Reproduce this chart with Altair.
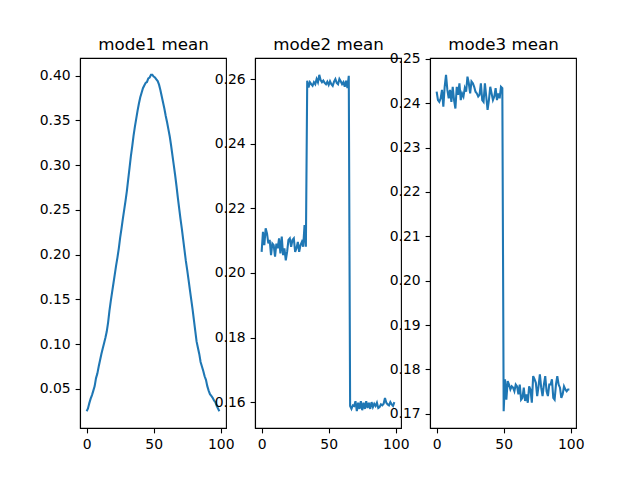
import altair as alt
import pandas as pd

steps = list(range(100))

mode1_mean = [
    0.025, 0.028, 0.034, 0.039, 0.043, 0.048, 0.053, 0.062, 0.067, 0.075,
    0.082, 0.089, 0.095, 0.101, 0.107, 0.114, 0.124, 0.137, 0.148, 0.158,
    0.168, 0.178, 0.188, 0.197, 0.207, 0.219, 0.229, 0.240, 0.250, 0.260,
    0.271, 0.284, 0.297, 0.310, 0.321, 0.333, 0.343, 0.352, 0.361, 0.369,
    0.376, 0.381, 0.386, 0.389, 0.392, 0.393, 0.397, 0.398, 0.401, 0.401,
    0.399, 0.398, 0.396, 0.394, 0.390, 0.384, 0.377, 0.370, 0.363, 0.355,
    0.348, 0.340, 0.332, 0.322, 0.311, 0.300, 0.289, 0.277, 0.264, 0.252,
    0.240, 0.229, 0.217, 0.205, 0.193, 0.183, 0.172, 0.161, 0.150, 0.139,
    0.127, 0.115, 0.103, 0.096, 0.089, 0.080, 0.075, 0.070, 0.064, 0.060,
    0.053, 0.048, 0.044, 0.042, 0.040, 0.037, 0.035, 0.031, 0.028, 0.025,
]

mode2_mean = [
    0.2065, 0.2127, 0.2086, 0.2138, 0.2122, 0.2091, 0.2102, 0.2055, 0.2091, 0.2086,
    0.2050, 0.2091, 0.2076, 0.2107, 0.2060, 0.2112, 0.2055, 0.2076, 0.2039, 0.2065,
    0.2102, 0.2107, 0.2081, 0.2102, 0.2107, 0.2065, 0.2076, 0.2096, 0.2065, 0.2086,
    0.2096, 0.2081, 0.2148, 0.2081, 0.2595, 0.2574, 0.2590, 0.2584, 0.2579, 0.2590,
    0.2584, 0.2600, 0.2590, 0.2613, 0.2597, 0.2590, 0.2595, 0.2588, 0.2584, 0.2592,
    0.2582, 0.2593, 0.2584, 0.2579, 0.2592, 0.2600, 0.2588, 0.2584, 0.2600, 0.2593,
    0.2584, 0.2590, 0.2576, 0.2595, 0.2572, 0.2610, 0.1588, 0.1579, 0.1590, 0.1588,
    0.1603, 0.1572, 0.1598, 0.1579, 0.1603, 0.1575, 0.1598, 0.1579, 0.1603, 0.1582,
    0.1598, 0.1579, 0.1600, 0.1585, 0.1595, 0.1588, 0.1598, 0.1582, 0.1585, 0.1593,
    0.1590, 0.1595, 0.1613, 0.1598, 0.1593, 0.1590, 0.1600, 0.1593, 0.1588, 0.1600,
]

mode3_mean = [
    0.2426, 0.2407, 0.2403, 0.2411, 0.2430, 0.2392, 0.2437, 0.2464, 0.2430, 0.2411,
    0.2430, 0.2403, 0.2437, 0.2407, 0.2388, 0.2437, 0.2419, 0.2445, 0.2407, 0.2422,
    0.2415, 0.2434, 0.2426, 0.2460, 0.2445, 0.2422, 0.2449, 0.2445, 0.2437, 0.2426,
    0.2422, 0.2415, 0.2419, 0.2445, 0.2407, 0.2403, 0.2445, 0.2415, 0.2385, 0.2407,
    0.2437, 0.2422, 0.2407, 0.2415, 0.2434, 0.2407, 0.2422, 0.2411, 0.2437, 0.2434,
    0.1706, 0.1778, 0.1732, 0.1774, 0.1766, 0.1755, 0.1762, 0.1759, 0.1751, 0.1766,
    0.1762, 0.1744, 0.1766, 0.1732, 0.1736, 0.1759, 0.1729, 0.1744, 0.1725, 0.1762,
    0.1755, 0.1725, 0.1785, 0.1778, 0.1770, 0.1740, 0.1762, 0.1789, 0.1759, 0.1740,
    0.1766, 0.1785, 0.1751, 0.1740, 0.1766, 0.1766, 0.1778, 0.1736, 0.1732, 0.1766,
    0.1785, 0.1766, 0.1759, 0.1736, 0.1744, 0.1762, 0.1755, 0.1751, 0.1755, 0.1755,
]

titles = ["mode1 mean", "mode2 mean", "mode3 mean"]
x_ticks = [0, 50, 100]
y_ticks = [
    [0.05, 0.10, 0.15, 0.20, 0.25, 0.30, 0.35, 0.40],
    [0.16, 0.18, 0.20, 0.22, 0.24, 0.26],
    [0.17, 0.18, 0.19, 0.20, 0.21, 0.22, 0.23, 0.24, 0.25],
]

FONT = "DejaVu Sans"


def panel(vals, title, ticks):
    df = pd.DataFrame({"step": steps, "value": vals})
    lo, hi = min(vals), max(vals)
    m = (hi - lo) * 0.05
    xlo, xhi = min(steps), max(steps)
    xm = (xhi - xlo) * 0.05
    xscale = alt.Scale(domain=[xlo - xm, xhi + xm], nice=False, zero=False)
    yenc = alt.Y(
        "value:Q",
        scale=alt.Scale(domain=[lo - m, hi + m], nice=False, zero=False),
        axis=alt.Axis(values=ticks, format=".2f", title=None),
    )
    base = alt.Chart(df)
    line = base.mark_line(color="#1f77b4", strokeWidth=2.08).encode(
        x=alt.X("step:Q", scale=xscale, axis=alt.Axis(values=x_ticks, format="d", title=None)),
        y=yenc,
    )
    # invisible layer that only carries a top axis whose title is the panel title
    top = base.mark_line(opacity=0).encode(
        x=alt.X(
            "step:Q",
            scale=xscale,
            axis=alt.Axis(
                orient="top",
                title=title,
                labels=False,
                ticks=False,
                domain=False,
                titleFont=FONT,
                titleFontSize=16.7,
                titleFontWeight="normal",
                titleColor="black",
                titlePadding=9,
                titleBaseline="alphabetic",
            ),
        ),
        y=yenc,
    )
    return (
        alt.layer(line, top)
        .resolve_axis(x="independent")
        .properties(width=146, height=370)
    )


charts = [
    panel(mode1_mean, titles[0], y_ticks[0]),
    panel(mode2_mean, titles[1], y_ticks[1]),
    panel(mode3_mean, titles[2], y_ticks[2]),
]

chart = (
    alt.hconcat(*charts, spacing=29, bounds="flush")
    .properties(padding={"left": 30, "top": 27, "right": 5, "bottom": 5}, background="white")
    .configure_view(stroke="black", strokeWidth=1.1)
    .configure_axis(
        grid=False,
        domainColor="black",
        domainWidth=1.1,
        tickColor="black",
        tickWidth=1.1,
        tickSize=4.9,
        labelPadding=4.9,
        labelColor="black",
        labelFont=FONT,
        labelFontSize=13.9,
        labelFlush=False,
        labelOverlap=False,
        labelBound=False,
    )
)

chart.save("out.html", embed_options={"renderer": "svg", "actions": False})
